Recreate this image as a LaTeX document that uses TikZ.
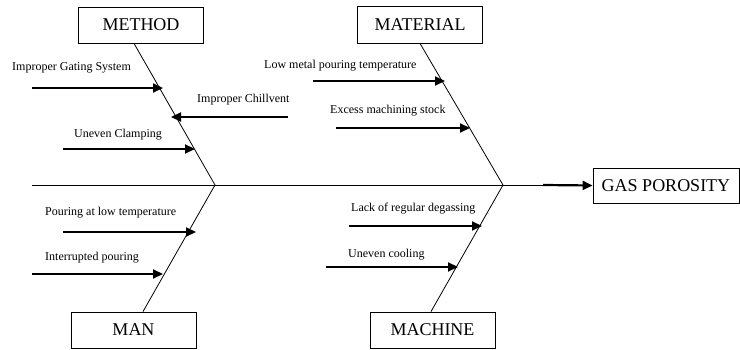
\documentclass[tikz,border=0pt]{standalone}
\usepackage{fontspec}
\setmainfont{Liberation Serif}
\usetikzlibrary{arrows.meta}
\tikzstyle{categoryBox} = [
 rectangle,
 draw=black,
 line width=0.8pt,
 minimum width=125pt,
 minimum height=36pt,
 inner sep=0pt,
 font=\fontsize{18}{20}\selectfont
]
\tikzstyle{effectBox} = [
 categoryBox,
 minimum width=146pt,
 minimum height=35pt
]
\tikzstyle{causeLabel} = [
 anchor=west,
 inner sep=0pt,
 font=\fontsize{12}{14}\selectfont
]
\tikzstyle{causeArrow} = [
 line width=2.2pt,
 -{Triangle[length=10pt,width=9pt]}
]
\tikzstyle{bone} = [
 line width=0.8pt
]

\begin{document}
\begin{tikzpicture}[x=1pt,y=-1pt]
  \useasboundingbox (0,0) rectangle (740,350);

  % category boxes and the effect
  \node [categoryBox] (method) at (141,25) {METHOD};
  \node [categoryBox, minimum height=37pt] (material) at (420,24.5) {MATERIAL};
  \node [categoryBox] (man) at (133.5,330) {MAN};
  \node [categoryBox] (machine) at (432.5,330) {MACHINE};
  \node [effectBox] (porosity) at (666,185.5) {GAS POROSITY};

  % spine and bones
  \coordinate (spineStart) at (32,185);
  \coordinate (headL) at (215,185);
  \coordinate (headR) at (503,185);
  \coordinate (spineEnd) at (543,185);
  \draw [bone] (spineStart) -- (spineEnd);
  \draw [causeArrow] (spineEnd) -- (porosity.west);
  \draw [bone] ([xshift=-7pt]method.south) -- (headL);
  \draw [bone] (material.south) -- (headR);
  \draw [bone] ([xshift=9.5pt]man.north) -- (headL);
  \draw [bone] ([xshift=-1.5pt]machine.north) -- (headR);

  % method causes
  \node [causeLabel] (gating) at (12,68) {Improper Gating System};
  \coordinate (gatingA) at (32,88);
  \coordinate (gatingB) at (163,88);
  \draw [causeArrow] (gatingA) -- (gatingB);
  \node [causeLabel] (chillvent) at (197,100) {Improper Chillvent};
  \coordinate (chillventA) at (288,117);
  \coordinate (chillventB) at (171,117);
  \draw [causeArrow] (chillventA) -- (chillventB);
  \node [causeLabel] (clamping) at (74,135) {Uneven Clamping};
  \coordinate (clampingA) at (63,149);
  \coordinate (clampingB) at (195,149);
  \draw [causeArrow] (clampingA) -- (clampingB);

  % material causes
  \node [causeLabel] (lowTemp) at (264,66) {Low metal pouring temperature};
  \coordinate (lowTempA) at (313,81);
  \coordinate (lowTempB) at (445,81);
  \draw [causeArrow] (lowTempA) -- (lowTempB);
  \node [causeLabel] (stock) at (330,111) {Excess machining stock};
  \coordinate (stockA) at (336,128);
  \coordinate (stockB) at (470,128);
  \draw [causeArrow] (stockA) -- (stockB);

  % man causes
  \node [causeLabel] (pouring) at (45,213) {Pouring at low temperature};
  \coordinate (pouringA) at (63,232);
  \coordinate (pouringB) at (196,232);
  \draw [causeArrow] (pouringA) -- (pouringB);
  \node [causeLabel] (interrupted) at (45,258) {Interrupted pouring};
  \coordinate (interruptedA) at (32,274);
  \coordinate (interruptedB) at (163,274);
  \draw [causeArrow] (interruptedA) -- (interruptedB);

  % machine causes
  \node [causeLabel] (degassing) at (351,209) {Lack of regular degassing};
  \coordinate (degassingA) at (349,226);
  \coordinate (degassingB) at (482,226);
  \draw [causeArrow] (degassingA) -- (degassingB);
  \node [causeLabel] (cooling) at (348,255) {Uneven cooling};
  \coordinate (coolingA) at (326,267);
  \coordinate (coolingB) at (458,267);
  \draw [causeArrow] (coolingA) -- (coolingB);
\end{tikzpicture}
\end{document}
